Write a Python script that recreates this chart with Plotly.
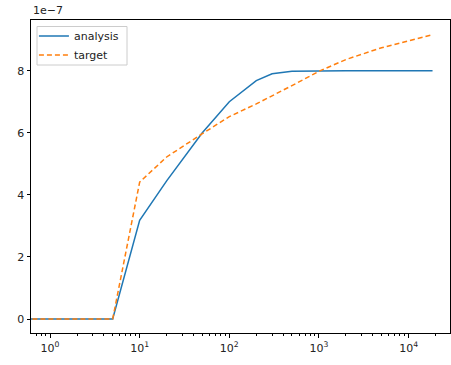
import numpy as np
import plotly.graph_objects as go

# data (x in Hz-like units, log axis); first point stands in for 0 (off-scale to the left)
x_vals = [0.1, 5, 10, 20, 50, 100, 200, 300, 500, 1000, 2000, 5000, 10000, 18500]
analysis = [0, 0, 3.18e-7, 4.45e-7, 6.0e-7, 7.0e-7, 7.68e-7, 7.9e-7, 7.98e-7,
            8.0e-7, 8.0e-7, 8.0e-7, 8.0e-7, 8.0e-7]
target = [0, 0, 4.41e-7, 5.22e-7, 5.97e-7, 6.52e-7, 6.93e-7, 7.18e-7, 7.52e-7,
          7.98e-7, 8.36e-7, 8.74e-7, 8.97e-7, 9.16e-7]

x_tickvals = [1, 10, 100, 1000, 10000]
x_ticktext = ["10<sup>0</sup>", "10<sup>1</sup>", "10<sup>2</sup>", "10<sup>3</sup>", "10<sup>4</sup>"]
y_tickvals = [0, 2e-7, 4e-7, 6e-7, 8e-7]
y_ticktext = ["0", "2", "4", "6", "8"]

minor_vals = [m * 10 ** d for d in range(-1, 5) for m in range(2, 10)]

FONT = "DejaVu Sans"
fig = go.Figure()
fig.add_trace(go.Scatter(x=x_vals, y=analysis, mode="lines", name="analysis",
                         line=dict(color="#1f77b4", width=1.5)))
fig.add_trace(go.Scatter(x=x_vals, y=target, mode="lines", name="target",
                         line=dict(color="#ff7f0e", width=1.5, dash="5px,3px")))

axis_common = dict(showgrid=False, zeroline=False, showline=True, linecolor="black",
                   linewidth=1, mirror=True, ticks="outside", ticklen=3.5,
                   tickwidth=0.8, tickcolor="black",
                   tickfont=dict(family=FONT, size=11, color="#222"))

fig.update_xaxes(type="log", range=[np.log10(0.6135), np.log10(28970)],
                 tickmode="array", tickvals=x_tickvals, ticktext=x_ticktext,
                 ticklabelstandoff=1,
                 minor=dict(tickmode="array", tickvals=minor_vals, ticks="outside",
                            ticklen=2, tickwidth=0.6, tickcolor="black"),
                 **axis_common)
fig.update_yaxes(range=[-0.451e-7, 9.633e-7], tickmode="array",
                 tickvals=y_tickvals, ticktext=y_ticktext, **axis_common)

fig.add_annotation(text="1e\u22127", xref="paper", yref="paper", x=0, y=1,
                   xanchor="left", yanchor="bottom", showarrow=False, yshift=1,
                   font=dict(family=FONT, size=11, color="#222"))

# legend frame (matplotlib-style box)
fig.add_shape(type="rect", xref="paper", yref="paper",
              x0=(37 - 31) / 419, x1=(127 - 31) / 419,
              y0=(333 - 65) / 313, y1=(333 - 26.5) / 313,
              line=dict(color="#cccccc", width=1),
              fillcolor="rgba(255,255,255,0.8)", layer="above")

fig.update_layout(
    width=451, height=365,
    margin=dict(l=31, r=1, t=20, b=32),
    paper_bgcolor="white", plot_bgcolor="white",
    font=dict(family=FONT, size=11, color="#222"),
    legend=dict(x=0.007, y=0.9956, xanchor="left", yanchor="top",
                bgcolor="rgba(0,0,0,0)", borderwidth=0,
                itemwidth=30, tracegroupgap=0,
                font=dict(family=FONT, size=11, color="#222")),
)

fig.write_html("out.html")
